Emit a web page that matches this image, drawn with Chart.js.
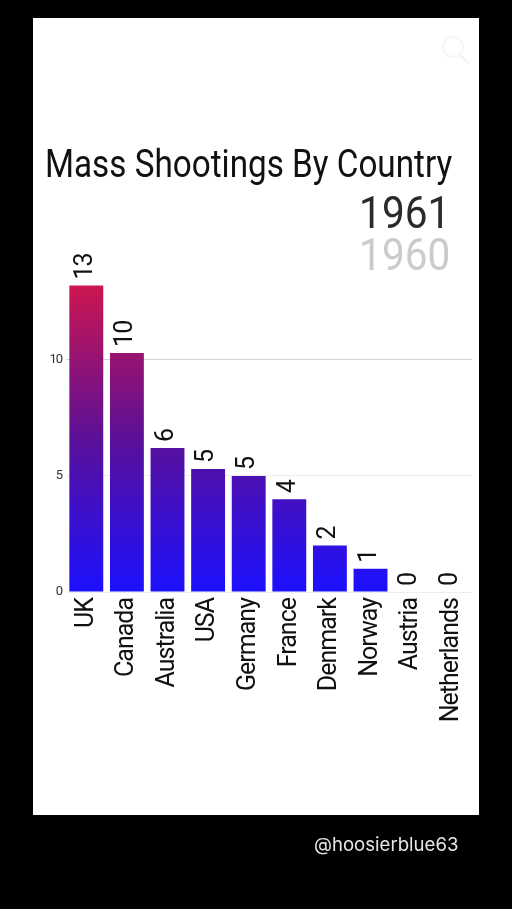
<!DOCTYPE html>
<html lang="en">

<head>
    <meta charset="UTF-8">
    <title>Mass Shootings By Country</title>
    <script src="https://cdn.jsdelivr.net/npm/chart.js"></script>
    <style>
        html, body {
            margin: 0;
            width: 512px;
            height: 909px;
            background: #000;
            overflow: hidden;
        }
        .panel {
            position: absolute;
            left: 33px;
            top: 18px;
            width: 446px;
            height: 797px;
            background: #fff;
        }
        canvas {
            position: absolute;
            left: 0;
            top: 0;
        }
        .txt {
            position: absolute;
            white-space: nowrap;
            font-family: Roboto, sans-serif;
            line-height: 1;
        }
        #title {
            left: 45px;
            top: 145px;
            font-size: 38px;
            color: #111;
            transform: scaleX(0.875);
            transform-origin: left top;
        }
        .year {
            right: 62px;
            font-size: 45px;
            transform: scaleX(0.9);
            transform-origin: right top;
        }
        #year1 { top: 190px; color: #2a2a2a; }
        #year2 { top: 232px; color: #cbcbcb; }
        #handle {
            left: 314px;
            top: 835px;
            font-family: Inter, sans-serif;
            font-size: 18.6px;
            color: #e6e6e6;
        }
        svg {
            position: absolute;
            left: 438px;
            top: 34px;
        }
    </style>
</head>

<body>
    <div class="panel"></div>
    <svg width="34" height="34"><circle cx="15" cy="13" r="10" fill="none" stroke="#f6f6f6" stroke-width="2"/><line x1="22" y1="21" x2="30" y2="29" stroke="#f3f3f3" stroke-width="2"/></svg>
    <canvas id="chart" width="512" height="909"></canvas>
    <div class="txt" id="title">Mass Shootings By Country</div>
    <div class="txt year" id="year1">1961</div>
    <div class="txt year" id="year2">1960</div>
    <div class="txt" id="handle">@hoosierblue63</div>

    <script>
        const countries = ['UK', 'Canada', 'Australia', 'USA', 'Germany', 'France', 'Denmark', 'Norway', 'Austria', 'Netherlands'];
        // bar heights are mid-animation in the video frame, the labels show the rounded count
        const barValues = [13.2, 10.3, 6.2, 5.3, 5, 4, 2, 1, 0, 0];
        const shownValues = [13, 10, 6, 5, 5, 4, 2, 1, 0, 0];
        const yTicks = [0, 5, 10];

        const font = 'Roboto, sans-serif';

        function barGradient(context) {
            const chart = context.chart;
            if (!chart.chartArea) return '#1a10ff';
            const y = chart.scales.y;
            const g = chart.ctx.createLinearGradient(0, y.getPixelForValue(0), 0, y.getPixelForValue(13.2));
            g.addColorStop(0, '#1c10ff');
            g.addColorStop(0.5, '#5a1098');
            g.addColorStop(1, '#cc1650');
            return g;
        }

        // no condensed font is installed, so tighten the letters instead
        const tightText = {
            id: 'tightText',
            beforeDraw(chart) {
                chart.ctx.letterSpacing = '-1px';
            }
        };

        const valueLabels = {
            id: 'valueLabels',
            afterDatasetsDraw(chart) {
                const ctx = chart.ctx;
                chart.getDatasetMeta(0).data.forEach((bar, i) => {
                    ctx.save();
                    ctx.translate(bar.x - 1, bar.y - 6);
                    ctx.rotate(-Math.PI / 2);
                    ctx.font = '25px ' + font;
                    ctx.fillStyle = '#111';
                    ctx.textAlign = 'left';
                    ctx.textBaseline = 'middle';
                    ctx.fillText(shownValues[i], 0, 0);
                    ctx.restore();
                });
            }
        };

        new Chart(document.getElementById('chart'), {
            type: 'bar',
            data: {
                labels: countries,
                datasets: [{
                    data: barValues,
                    backgroundColor: barGradient,
                    categoryPercentage: 1,
                    barPercentage: 0.835
                }]
            },
            options: {
                responsive: false,
                animation: false,
                layout: { padding: { top: 267, right: 40, bottom: 0, left: 0 } },
                plugins: { legend: { display: false }, tooltip: { enabled: false } },
                scales: {
                    x: {
                        grid: { display: false },
                        border: { display: false },
                        afterFit(scale) { scale.height = 317; },
                        ticks: {
                            minRotation: 90,
                            maxRotation: 90,
                            autoSkip: false,
                            padding: -2,
                            color: '#111',
                            font: { family: font, size: 25 }
                        }
                    },
                    y: {
                        min: 0,
                        max: 14,
                        border: { display: false },
                        afterFit(scale) { scale.width = 66; },
                        afterBuildTicks(scale) { scale.ticks = yTicks.map(v => ({ value: v })); },
                        grid: {
                            drawTicks: false,
                            color(c) {
                                if (c.tick.value === 10) return '#d4d4d4';
                                return c.tick.value === 5 ? '#ececec' : '#eeeeee';
                            }
                        },
                        ticks: {
                            padding: 4,
                            color: '#333',
                            font: { family: font, size: 13 }
                        }
                    }
                }
            },
            plugins: [tightText, valueLabels]
        });
    </script>
</body>

</html>
